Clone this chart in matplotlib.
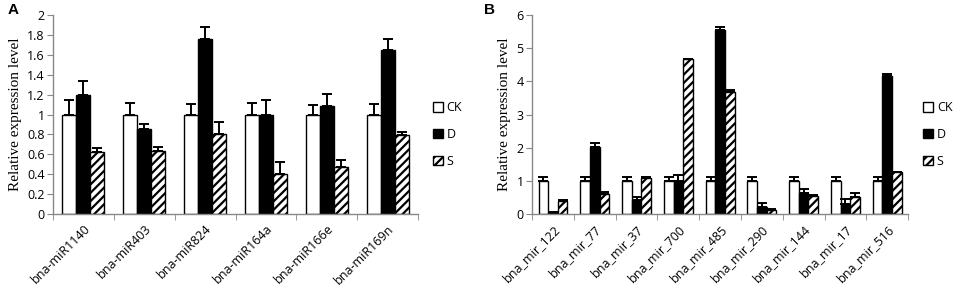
import matplotlib.pyplot as plt
import numpy as np

plt.rcParams['hatch.linewidth'] = 1.6

# panel A
genes_a = ["bna-miR1140", "bna-miR403", "bna-miR824", "bna-miR164a", "bna-miR166e", "bna-miR169n"]
ck_a = [1.0, 1.0, 1.0, 1.0, 1.0, 1.0]
ck_a_err = [0.15, 0.12, 0.11, 0.12, 0.10, 0.11]
d_a = [1.20, 0.85, 1.76, 1.00, 1.09, 1.65]
d_a_err = [0.14, 0.05, 0.12, 0.15, 0.12, 0.11]
s_a = [0.62, 0.63, 0.80, 0.40, 0.47, 0.79]
s_a_err = [0.04, 0.04, 0.13, 0.12, 0.07, 0.03]
yticks_a = [0, 0.2, 0.4, 0.6, 0.8, 1, 1.2, 1.4, 1.6, 1.8, 2]

# panel B
genes_b = ["bna_mir_122", "bna_mir_77", "bna_mir_37", "bna_mir_700", "bna_mir_485",
           "bna_mir_290", "bna_mir_144", "bna_mir_17", "bna_mir_516"]
ck_b = [1.0, 1.0, 1.0, 1.0, 1.0, 1.0, 1.0, 1.0, 1.0]
ck_b_err = [0.12, 0.12, 0.12, 0.12, 0.12, 0.12, 0.12, 0.12, 0.12]
d_b = [0.02, 2.02, 0.42, 1.00, 5.55, 0.20, 0.62, 0.30, 4.17]
d_b_err = [0.03, 0.13, 0.08, 0.17, 0.10, 0.12, 0.13, 0.15, 0.05]
s_b = [0.38, 0.60, 1.10, 4.67, 3.67, 0.12, 0.55, 0.52, 1.27]
s_b_err = [0.05, 0.05, 0.01, 0.02, 0.07, 0.02, 0.02, 0.11, 0.01]
yticks_b = [0, 1, 2, 3, 4, 5, 6]

tick_font = "Open Sans"
label_font = "Liberation Serif"

fig = plt.figure(figsize=(9.64, 2.9), dpi=100)
ax_a = fig.add_axes([0.055, 0.262, 0.3786, 0.686])
ax_b = fig.add_axes([0.552, 0.262, 0.390, 0.686])


def panel(ax, genes, ck, ck_err, d, d_err, s, s_err, yticks, ymax):
    x = np.arange(len(genes))
    w = 0.23
    ekw = dict(elinewidth=1.4, capthick=1.4, ecolor="black")
    ax.bar(x - w, ck, w, color="white", edgecolor="black", linewidth=1, label="CK")
    ax.errorbar(x - w, ck, yerr=[np.zeros(len(ck)), ck_err], fmt="none", capsize=3.5, **ekw)
    ax.bar(x, d, w, color="black", edgecolor="black", linewidth=1, label="D")
    ax.errorbar(x, d, yerr=[np.zeros(len(d)), d_err], fmt="none", capsize=3.5, **ekw)
    ax.bar(x + w, s, w, color="white", edgecolor="black", linewidth=1, hatch="////", label="S")
    ax.errorbar(x + w, s, yerr=[np.zeros(len(s)), s_err], fmt="none", capsize=3.5, **ekw)

    ax.set_xlim(-0.5, len(genes) - 0.5)
    ax.set_ylim(0, ymax)
    ax.set_yticks(yticks)
    ax.set_yticklabels([f"{t:g}" for t in yticks], fontfamily=tick_font, fontsize=9)
    ax.set_xticks(x)
    ax.set_xticklabels(genes, rotation=45, ha="right", rotation_mode="anchor",
                       fontfamily=tick_font, fontsize=9)
    ax.set_xticks(np.arange(len(genes) + 1) - 0.5, minor=True)
    ax.tick_params(axis="x", which="major", length=0, pad=6)
    ax.tick_params(axis="x", which="minor", length=4, color="#888888", direction="out")
    ax.tick_params(axis="y", length=4, color="#888888", direction="out", pad=2)
    for side in ["top", "right"]:
        ax.spines[side].set_visible(False)
    for side in ["left", "bottom"]:
        ax.spines[side].set_color("#888888")
        ax.spines[side].set_linewidth(1)
    ax.set_ylabel("Relative expression level", fontfamily=label_font, fontsize=11, labelpad=4)
    ax.legend(loc="center left", bbox_to_anchor=(1.01, 0.4), frameon=False,
              handlelength=0.8, handleheight=0.8, handletextpad=0.3,
              labelspacing=1.1, prop={"family": tick_font, "size": 9})


panel(ax_a, genes_a, ck_a, ck_a_err, d_a, d_a_err, s_a, s_a_err, yticks_a, 2)
panel(ax_b, genes_b, ck_b, ck_b_err, d_b, d_b_err, s_b, s_b_err, yticks_b, 6)

fig.text(0.008, 0.965, "A", fontsize=11, fontweight="bold", fontfamily="Liberation Sans", va="center")
fig.text(0.502, 0.965, "B", fontsize=11, fontweight="bold", fontfamily="Liberation Sans", va="center")

fig.savefig("out.png", dpi=100)
